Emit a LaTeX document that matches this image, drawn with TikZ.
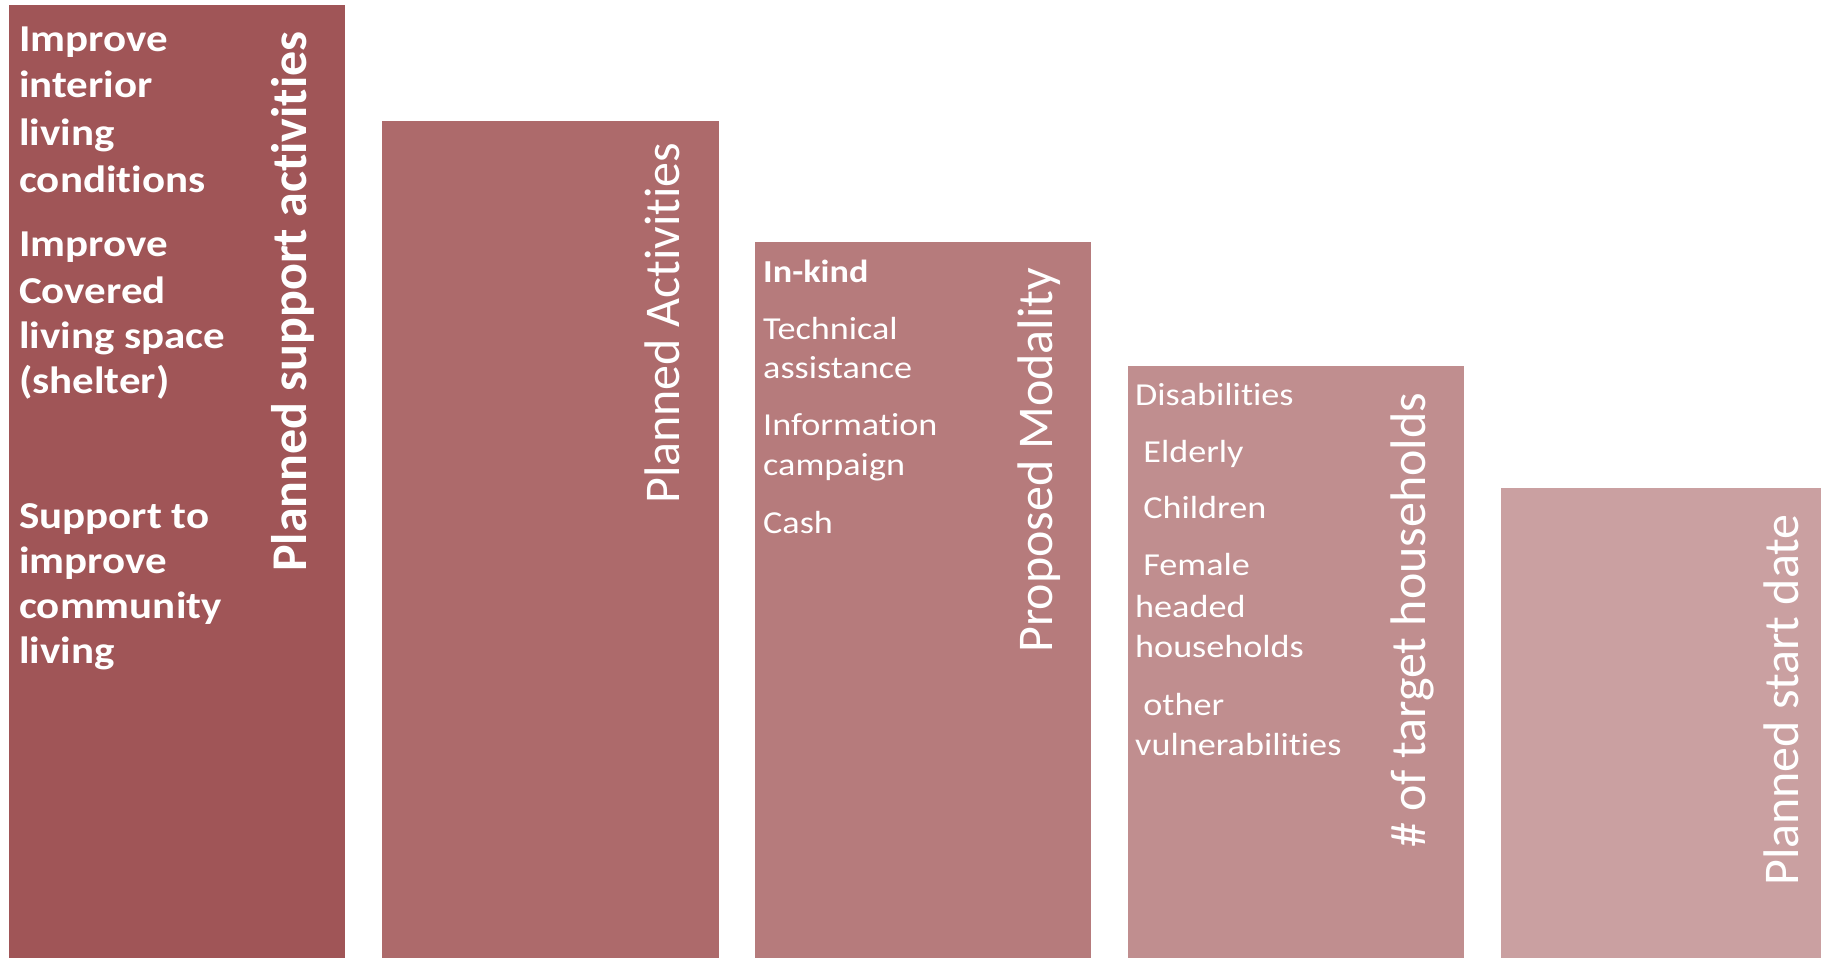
\documentclass[tikz,border=0pt]{standalone}
\usepackage{fontspec}
\setmainfont{Carlito}[Ligatures=NoCommon]
\newfontfamily\bodyfont{Carlito}[Ligatures=NoCommon,FakeStretch=1.13]
\definecolor{cA}{HTML}{A05557}
\definecolor{cB}{HTML}{AD6A6B}
\definecolor{cC}{HTML}{B67B7C}
\definecolor{cD}{HTML}{C08E8F}
\definecolor{cE}{HTML}{CAA0A1}
\begin{document}
\begin{tikzpicture}[x=1pt,y=-1pt,
  txt/.style={anchor=base west,inner sep=0pt,text=white},
  bigb/.style={txt,font=\bodyfont\fontsize{38}{46}\selectfont\bfseries},
  small/.style={txt,font=\bodyfont\fontsize{32}{40}\selectfont},
  smallb/.style={txt,font=\bodyfont\fontsize{32}{40}\selectfont\bfseries},
  ttl/.style={txt,rotate=90,font=\fontsize{50}{60}\selectfont},
  ttlb/.style={ttl,font=\fontsize{50}{60}\selectfont\bfseries}]
\useasboundingbox (0,0) rectangle (1821,958);
\fill[white] (0,0) rectangle (1821,958);
% columns
\fill[cA] (9,5) rectangle (345,958);
\fill[cB] (382,121) rectangle (719,958);
\fill[cC] (755,242) rectangle (1091,958);
\fill[cD] (1128,366) rectangle (1464,958);
\fill[cE] (1501,488) rectangle (1821,958);
% column 1
\node[bigb] (a1) at (19,52) {Improve};
\node[bigb] (a2) at (19,98) {interior};
\node[bigb] (a3) at (19,145) {living};
\node[bigb] (a4) at (19,192) {conditions};
\node[bigb] (b1) at (19,256) {Improve};
\node[bigb] (b2) at (19,303) {Covered};
\node[bigb] (b3) at (19,348) {living space};
\node[bigb] (b4) at (19,393) {(shelter)};
\node[bigb] (c1) at (19,528) {Support to};
\node[bigb] (c2) at (19,573) {improve};
\node[bigb] (c3) at (19,618) {community};
\node[bigb] (c4) at (19,663) {living};
\node[ttlb] (t1) at (306,572) {Planned support activities};
% column 2
\node[ttl] (t2) at (679,504) {Planned Activities};
% column 3
\node[smallb] (d1) at (763,282) {In-kind};
\node[small] (d2) at (763,339) {Technical};
\node[small] (d3) at (763,378) {assistance};
\node[small] (d4) at (763,435) {Information};
\node[small] (d5) at (763,475) {campaign};
\node[small] (d6) at (763,533) {Cash};
\node[ttl] (t3) at (1052,653) {Proposed Modality};
% column 4
\node[small] (e1) at (1135,405) {Disabilities};
\node[small] (e2) at (1135,462) {~Elderly};
\node[small] (e3) at (1135,518) {~Children};
\node[small] (e4) at (1135,575) {~Female};
\node[small] (e5) at (1135,617) {headed};
\node[small] (e6) at (1135,657) {households};
\node[small] (e7) at (1135,715) {~other};
\node[small] (e8) at (1135,755) {vulnerabilities};
\node[ttl] (t4) at (1425,848) {\# of target households};
% column 5
\node[ttl] (t5) at (1798,886) {Planned start date};
\end{tikzpicture}
\end{document}
